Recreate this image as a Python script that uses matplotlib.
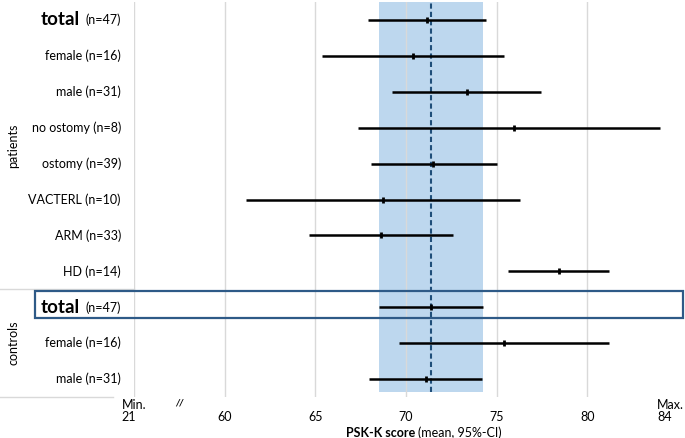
import numpy as np
import matplotlib.pyplot as plt
import matplotlib
from matplotlib.patches import Rectangle

matplotlib.rc('font', family=['Lato', 'DejaVu Sans'], size=9)

# rows from top to bottom
groups = ['patients', 'controls']
group_rows = [(0, 7), (8, 10)]
labels = ['total', 'female', 'male', 'no ostomy', 'ostomy', 'VACTERL', 'ARM', 'HD',
          'total', 'female', 'male']
ns = [47, 16, 31, 8, 39, 10, 33, 14, 47, 16, 31]
means = [71.17, 70.4, 73.38, 75.97, 71.5, 68.74, 68.63, 78.45, 71.39, 75.42, 71.1]
ci_lo = [67.92, 65.38, 69.24, 67.36, 68.08, 61.19, 64.66, 75.64, 68.5, 69.63, 67.97]
ci_hi = [74.42, 75.42, 77.46, 84.02, 75.03, 76.3, 72.6, 81.21, 74.26, 81.21, 74.2]
ref_row = 8  # controls total -> reference band

xticks = [55, 60, 65, 70, 75, 80, 84.6]
xticklabels = ['Min.\n21', '60', '65', '70', '75', '80', 'Max.\n84']
grid_x = [55, 60, 65, 70, 75, 80]

W, H = 685, 438
fig = plt.figure(figsize=(W/100, H/100), dpi=100)
ax = fig.add_axes([134/W, 1-397/H, 544/W, 395/H])

y = np.arange(len(labels))
ax.set_xlim(55, 85)
ax.set_ylim(len(labels)-0.5, -0.5)
for s in ax.spines.values():
  s.set_visible(False)
ax.set_xticks([])
ax.set_yticks([])

# reference band + mean of controls
ax.axvspan(ci_lo[ref_row], ci_hi[ref_row], ymin=0.013, color='#bdd7ee', lw=0, zorder=0.5)
for gx in grid_x:
  ax.axvline(gx, color='#d9d9d9', lw=1, zorder=1)
ax.axvline(means[ref_row], ymin=0.013, color='#1f4e79', lw=1.5, dashes=(2.5, 1.5), zorder=2)

ax.hlines(y, ci_lo, ci_hi, color='black', lw=1.8, zorder=3)
ax.plot(means, y, '|', ms=4.5, mew=2, color='black', zorder=4)

# x tick labels
xt = ax.get_xaxis_transform()
for v, lab in zip(xticks, xticklabels):
  if '\n' in lab:
    ax.text(v, -0.036, lab, transform=xt, ha='center', va='center',
            multialignment='left', linespacing=1.05, clip_on=False)
  else:
    ax.text(v, -0.05, lab, transform=xt, ha='center', va='center', clip_on=False)
ax.text(57.5, -0.016, '//', transform=xt, ha='center', va='center',
        fontsize=7, style='italic', weight='bold', clip_on=False)

fig.text(415/W, 1-433/H, 'PSK-K score', ha='right', va='center', weight='bold')
fig.text(418/W, 1-433/H, '(mean, 95%-CI)', ha='left', va='center')

# category labels
yt = ax.get_yaxis_transform()
for i, (lab, n) in enumerate(zip(labels, ns)):
  if lab == 'total':
    ax.text(-0.0239, i, '(n=%i)' % n, transform=yt, ha='right', va='center', clip_on=False)
    ax.text(-0.099, i, lab, transform=yt, ha='right', va='center',
            fontsize=13.5, weight='bold', clip_on=False)
  else:
    ax.text(-0.0239, i, '%s (n=%i)' % (lab, n), transform=yt, ha='right', va='center',
            clip_on=False)

# group labels and separators
for g, (r0, r1) in zip(groups, group_rows):
  ax.text(-0.222, (r0+r1)/2., g, transform=yt, rotation=90, ha='center', va='center',
          clip_on=False)
ax.plot([-0.246, 0], [7.5, 7.5], transform=yt, color='#d9d9d9', lw=1, clip_on=False)
ax.plot([-0.246, -0.039], [10.5, 10.5], transform=yt, color='#d9d9d9', lw=1, clip_on=False)

# highlight box for controls total
ax.add_patch(Rectangle((-0.182, 7.548), 1.191, 0.752, transform=yt, fill=False,
                       ec='#2e5a87', lw=1.6, clip_on=False, zorder=5))

plt.savefig('out.png', dpi=100)
